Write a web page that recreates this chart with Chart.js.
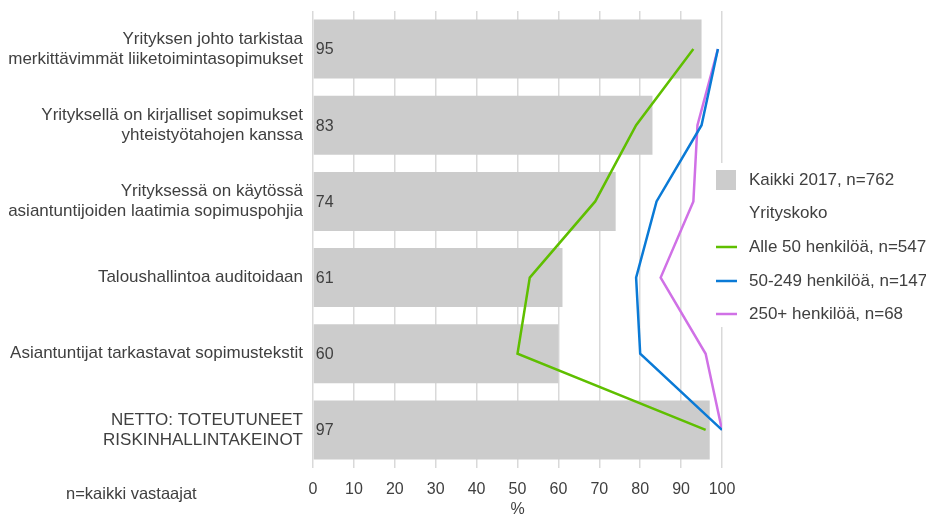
<!DOCTYPE html>
<html><head><meta charset="utf-8">
<script src="https://cdn.jsdelivr.net/npm/chart.js@4"></script>
<style>html,body{margin:0;padding:0;background:#fff}#w{width:926px;height:516px}</style>
</head><body><div id="w"><canvas id="c" width="926" height="516"></canvas></div>
<script>
const categories = [
  ["Yrityksen johto tarkistaa","merkittävimmät liiketoimintasopimukset"],
  ["Yrityksellä on kirjalliset sopimukset","yhteistyötahojen kanssa"],
  ["Yrityksessä on käytössä","asiantuntijoiden laatimia sopimuspohjia"],
  "Taloushallintoa auditoidaan",
  "Asiantuntijat tarkastavat sopimustekstit",
  ["NETTO: TOTEUTUNEET","RISKINHALLINTAKEINOT"]
];
const kaikki2017 = [95, 83, 74, 61, 60, 97];
const alle50 = [93, 79, 69, 53, 50, 96];
const h50_249 = [99, 95, 84, 79, 80, 100];
const h250plus = [99, 94, 93, 85, 96, 100];
const xTicks = [0,10,20,30,40,50,60,70,80,90,100];
const legendLabels = ["Kaikki 2017, n=762","Yrityskoko","Alle 50 henkilöä, n=547","50-249 henkilöä, n=147","250+ henkilöä, n=68"];
const footnote = "n=kaikki vastaajat";
const axisTitle = "%";

const FONT = "'Liberation Sans', Arial, sans-serif";
const TXT = "#404040";
const colors = {bar:"#cccccc", g:"#5fbf00", b:"#0a7ad6", p:"#d071e6"};

const valueLabels = {
  id:"valueLabels",
  afterDatasetsDraw(chart){
    const ctx = chart.ctx;
    const meta = chart.getDatasetMeta(0);
    ctx.save();
    ctx.font = "16px " + FONT;
    ctx.fillStyle = TXT;
    ctx.textBaseline = "middle";
    ctx.textAlign = "left";
    meta.data.forEach((el,i)=>{
      ctx.fillText(String(kaikki2017[i]), el.base + 2, el.y + 1);
    });
    ctx.restore();
  }
};
const customLegend = {
  id:"customLegend",
  afterDraw(chart){
    const ctx = chart.ctx;
    ctx.save();
    ctx.fillStyle = "#fff";
    ctx.fillRect(708, 163, 218, 164);
    ctx.font = "17px " + FONT;
    ctx.textBaseline = "middle";
    ctx.textAlign = "left";
    const rows = [180, 213, 247, 281, 314];
    ctx.fillStyle = colors.bar;
    ctx.fillRect(716, 170, 20, 20);
    const lc = [null, null, colors.g, colors.b, colors.p];
    rows.forEach((y,i)=>{
      if (lc[i]) {
        ctx.strokeStyle = lc[i];
        ctx.lineWidth = 2.5;
        ctx.beginPath(); ctx.moveTo(716, y); ctx.lineTo(737, y); ctx.stroke();
      }
      ctx.fillStyle = TXT;
      ctx.fillText(legendLabels[i], 749, y);
    });
    ctx.font = "16.5px " + FONT;
    ctx.fillText(footnote, 66, 494);
    ctx.restore();
  }
};

new Chart(document.getElementById("c"), {
  data: {
    labels: categories,
    datasets: [
      {type:"bar", label:legendLabels[0], data:kaikki2017, backgroundColor:colors.bar, barPercentage:0.775, categoryPercentage:1, order:2},
      {type:"line", label:legendLabels[2], data:alle50, borderColor:colors.g, borderWidth:2.5, pointRadius:0, tension:0, fill:false, order:1},
      {type:"line", label:legendLabels[3], data:h50_249, borderColor:colors.b, borderWidth:2.5, pointRadius:0, tension:0, fill:false, order:1},
      {type:"line", label:legendLabels[4], data:h250plus, borderColor:colors.p, borderWidth:2.5, pointRadius:0, tension:0, fill:false, order:1}
    ]
  },
  options: {
    indexAxis: "y",
    responsive: false,
    animation: false,
    devicePixelRatio: 1,
    layout: {padding: {top: 11, right: 204, left: 0, bottom: 0}},
    plugins: {legend: {display:false}, tooltip: {enabled:false}},
    scales: {
      x: {
        min: 0, max: 100,
        afterBuildTicks(s){ s.ticks = xTicks.map(v=>({value:v})); },
        grid: {color:"#d9d9d9", lineWidth:1.5, drawTicks:false},
        border: {display:false},
        ticks: {color:TXT, font:{family:FONT, size:16}, padding:12, maxRotation:0},
        title: {display:true, text:axisTitle, color:TXT, font:{family:FONT, size:16}, padding:{top:0,bottom:-3}},
        afterFit(s){ s.height = 48; s.paddingLeft = 0; s.paddingRight = 0; }
      },
      y: {
        grid: {display:false, drawTicks:false},
        border: {display:false},
        ticks: {color:TXT, font:{family:FONT, size:17, lineHeight:1.18}, padding:10},
        afterFit(s){ s.width = 313; s.paddingTop = 0; s.paddingBottom = 0; }
      }
    }
  },
  plugins: [valueLabels, customLegend]
});
</script>
</body></html>
